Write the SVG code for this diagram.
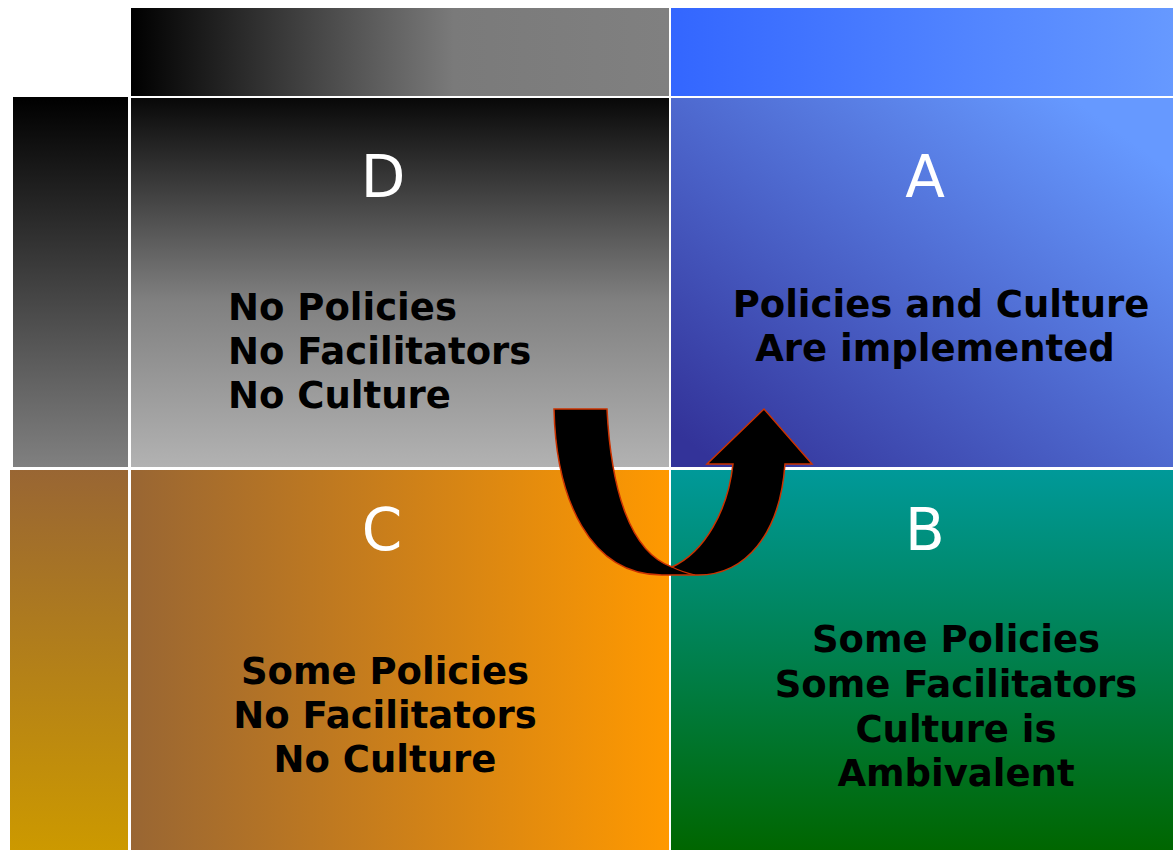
<svg xmlns="http://www.w3.org/2000/svg" width="1173" height="850" viewBox="0 0 1173 850">
<defs>
<linearGradient id="gTopGray" x1="0" y1="0" x2="1" y2="0"><stop offset="0" stop-color="#000"/><stop offset="0.6" stop-color="#7a7a7a"/><stop offset="1" stop-color="#808080"/></linearGradient>
<linearGradient id="gTopBlue" x1="0" y1="0" x2="1" y2="0"><stop offset="0" stop-color="#3366ff"/><stop offset="1" stop-color="#6699ff"/></linearGradient>
<linearGradient id="gLeftTop" x1="0" y1="0" x2="0" y2="1"><stop offset="0" stop-color="#000"/><stop offset="1" stop-color="#808080"/></linearGradient>
<linearGradient id="gLeftBot" x1="0" y1="0" x2="0" y2="1"><stop offset="0" stop-color="#996633"/><stop offset="1" stop-color="#cc9900"/></linearGradient>
<linearGradient id="gD" x1="0" y1="0" x2="0" y2="1"><stop offset="0" stop-color="#080808"/><stop offset="0.55" stop-color="#808080"/><stop offset="1" stop-color="#b2b2b2"/></linearGradient>
<linearGradient id="gA" x1="0" y1="1" x2="1" y2="0"><stop offset="0.05" stop-color="#333399"/><stop offset="0.9" stop-color="#6699ff"/></linearGradient>
<linearGradient id="gC" x1="0" y1="0" x2="1" y2="0"><stop offset="0" stop-color="#996633"/><stop offset="1" stop-color="#ff9900"/></linearGradient>
<linearGradient id="gB" x1="0" y1="0" x2="0" y2="1"><stop offset="0" stop-color="#009999"/><stop offset="1" stop-color="#006600"/></linearGradient>
</defs>
<style>
.big{font-family:"DejaVu Sans",Verdana,sans-serif;font-size:58px;fill:#fff;text-anchor:middle}
.txt{font-family:"DejaVu Sans",Verdana,sans-serif;font-weight:bold;font-size:37px;fill:#000}
.mid{text-anchor:middle}
</style>
<rect width="1173" height="850" fill="#fff"/>
<g id="headers">
<rect x="131" y="8" width="538" height="88" fill="url(#gTopGray)"/>
<rect x="671" y="8" width="502" height="88" fill="url(#gTopBlue)"/>
<rect x="13" y="97" width="115" height="370" fill="url(#gLeftTop)"/>
<rect x="10" y="470" width="118" height="380" fill="url(#gLeftBot)"/>
</g>
<g id="D">
<rect x="131" y="98" width="538" height="369" fill="url(#gD)"/>
<text class="big" x="383" y="197">D</text>
<text class="txt" x="228" y="320">No Policies</text>
<text class="txt" x="228" y="364">No Facilitators</text>
<text class="txt" x="228" y="408">No Culture</text>
</g>
<g id="A">
<rect x="671" y="98" width="502" height="369" fill="url(#gA)"/>
<text class="big" x="925" y="197">A</text>
<text class="txt mid" x="941" y="317">Policies and Culture</text>
<text class="txt mid" x="935" y="361">Are implemented</text>
</g>
<g id="C">
<rect x="131" y="470" width="538" height="380" fill="url(#gC)"/>
<text class="big" x="382" y="550">C</text>
<text class="txt mid" x="385" y="684">Some Policies</text>
<text class="txt mid" x="385" y="728">No Facilitators</text>
<text class="txt mid" x="385" y="772">No Culture</text>
</g>
<g id="B">
<rect x="671" y="470" width="502" height="380" fill="url(#gB)"/>
<text class="big" x="925" y="550">B</text>
<text class="txt mid" x="956" y="652">Some Policies</text>
<text class="txt mid" x="956" y="697">Some Facilitators</text>
<text class="txt mid" x="956" y="742">Culture is</text>
<text class="txt mid" x="956" y="786">Ambivalent</text>
</g>
<g id="connectors">
<path d="M554,409 L607,409 C611,490 630,552 672,567 C705,552 728,510 733,464 L707,464 L764,409 L812,464 L785,464 C780,535 745,575 698,575 L662,575 C590,575 556,500 554,409 Z" fill="#000" stroke="#cc3300" stroke-width="1.5" stroke-linejoin="miter"/>
<path d="M672,567 Q682,572 695,575" fill="none" stroke="#cc3300" stroke-width="1.2"/>
</g>
</svg>
